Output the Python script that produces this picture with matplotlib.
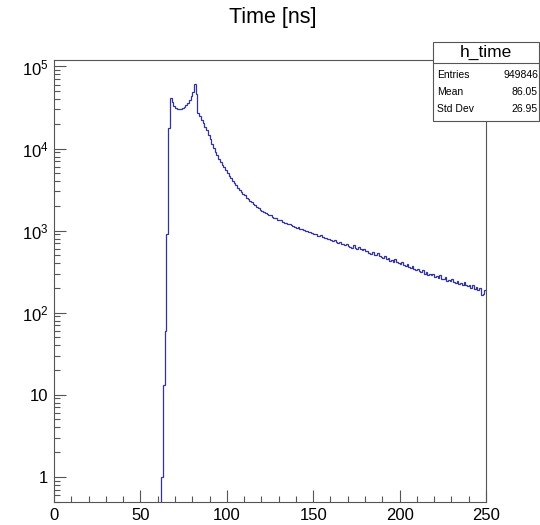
import matplotlib
matplotlib.use("Agg")
import matplotlib.pyplot as plt
import numpy as np
from matplotlib.patches import Rectangle
from matplotlib.lines import Line2D

plt.rcParams["font.family"] = ["Liberation Sans", "DejaVu Sans"]
plt.rcParams["mathtext.fontset"] = "custom"
plt.rcParams["mathtext.rm"] = "Liberation Sans"
plt.rcParams["mathtext.it"] = "Liberation Sans:italic"

# histogram h_time: 250 bins of 1 ns from 0 to 250, counts start at bin 60
X_LOW = 0
X_HIGH = 250
FIRST_BIN = 60
COUNTS = [
    0, 0, 1, 13, 60, 900, 18000, 41000, 36500, 33200,
    31400, 30500, 30100, 30300, 30900, 32100, 33700, 36000, 39400, 43800,
    49500, 61000, 46500, 27000, 24800, 22400, 20300, 18300, 16600, 14800,
    13100, 11500, 10100, 9100, 8250, 7550, 6900, 6350, 5900, 5420,
    5020, 4680, 4330, 4070, 3790, 3580, 3340, 3160, 2990, 2810,
    2690, 2530, 2440, 2290, 2210, 2090, 2030, 1930, 1870, 1790,
    1740, 1690, 1620, 1590, 1530, 1570, 1480, 1430, 1410, 1350,
    1330, 1360, 1280, 1250, 1230, 1190, 1210, 1160, 1130, 1120,
    1080, 1110, 1050, 1060, 1010, 990, 1000, 960, 950, 930,
    900, 920, 870, 860, 880, 830, 810, 820, 780, 790,
    760, 740, 770, 720, 700, 730, 690, 680, 660, 690,
    650, 640, 620, 660, 610, 600, 630, 590, 580, 600,
    560, 570, 540, 520, 550, 510, 500, 530, 490, 480,
    470, 490, 450, 460, 430, 440, 420, 450, 410, 400,
    390, 410, 380, 370, 390, 360, 350, 370, 340, 330,
    345, 320, 310, 330, 300, 315, 290, 300, 285, 295,
    270, 280, 265, 285, 255, 260, 270, 245, 250, 240,
    255, 235, 230, 245, 225, 230, 215, 235, 220, 210,
    215, 200, 220, 195, 205, 190, 200, 165, 170, 190,
]

TITLE = "Time [ns]"
STATS_NAME = "h_time"
STATS_ROWS = [("Entries", "949846"), ("Mean", "86.05"), ("Std Dev", "26.95")]

X_TICKS = [0, 50, 100, 150, 200, 250]
Y_TICKS = [1, 10, 1e2, 1e3, 1e4, 1e5]
Y_TICK_LABELS = ["1", "10", "$10^{2}$", "$10^{3}$", "$10^{4}$", "$10^{5}$"]
Y_RANGE = (0.5, 1.2e5)

W, H = 540, 525
FRAME = "#555555"
LINE = "#333399"


def px(x, y):
    # image pixel (top-left origin) -> figure fraction
    return x / W, 1 - y / H


def full_counts():
    n_bins = X_HIGH - X_LOW
    counts = np.zeros(n_bins)
    counts[FIRST_BIN - X_LOW:FIRST_BIN - X_LOW + len(COUNTS)] = COUNTS
    return counts


def draw_stats(fig):
    x0, x1 = 433, 539
    y0, y1 = 42, 121
    l, b = px(x0, y1)
    r, t = px(x1, y0)
    fig.add_artist(Rectangle((l, b), r - l, t - b, transform=fig.transFigure,
                             facecolor="white", edgecolor=FRAME, lw=0.8, zorder=10))
    sx, sy = px(0, 63)
    fig.add_artist(Line2D([l, r], [sy, sy], transform=fig.transFigure,
                          color=FRAME, lw=0.8, zorder=11))
    cx, cy = px((x0 + x1) / 2, 52.5)
    fig.text(cx, cy, STATS_NAME, ha="center", va="center", fontsize=12.5, zorder=12)
    for (name, value), yy in zip(STATS_ROWS, [75, 92, 109]):
        fig.text(*px(437, yy), name, ha="left", va="center", fontsize=7.5, zorder=12)
        fig.text(*px(538, yy), value, ha="right", va="center", fontsize=7.5, zorder=12)


def main():
    counts = full_counts()
    edges = np.arange(X_LOW, X_HIGH + 1)

    fig = plt.figure(figsize=(W / 100, H / 100), dpi=100)
    l, b = px(54, 501.5)
    r, t = px(486, 60)
    ax = fig.add_axes([l, b, r - l, t - b])

    ax.stairs(np.where(counts > 0, counts, 1e-3), edges, baseline=None,
              color=LINE, lw=0.9)

    ax.set_yscale("log")
    ax.set_xlim(X_LOW, X_HIGH)
    ax.set_ylim(*Y_RANGE)

    ax.set_xticks(X_TICKS)
    ax.set_xticklabels([str(v) for v in X_TICKS])
    ax.set_xticks(np.arange(X_LOW, X_HIGH + 1, 10), minor=True)
    ax.set_yticks(Y_TICKS)
    ax.set_yticklabels(Y_TICK_LABELS)
    ax.yaxis.set_minor_locator(matplotlib.ticker.LogLocator(base=10, subs=np.arange(2, 10)))
    ax.yaxis.set_minor_formatter(matplotlib.ticker.NullFormatter())

    ax.tick_params(which="both", direction="in", colors=FRAME, labelcolor="black",
                   labelsize=12, top=False, right=False, width=0.8)
    ax.tick_params(which="major", length=8.5)
    ax.tick_params(which="minor", length=4.5)
    ax.tick_params(axis="x", pad=5)
    ax.tick_params(axis="y", pad=4)
    for spine in ax.spines.values():
        spine.set_color(FRAME)
        spine.set_linewidth(0.8)

    fig.text(*px(273, 18), TITLE, ha="center", va="center", fontsize=15.5)
    draw_stats(fig)

    fig.savefig("out.png", dpi=100)
    plt.close(fig)


if __name__ == "__main__":
    main()
